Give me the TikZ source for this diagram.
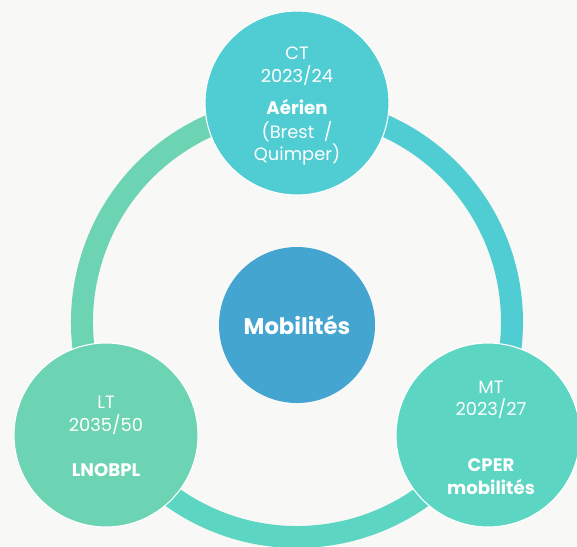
\documentclass[tikz,border=0pt]{standalone}
\usepackage{fontspec}
\setmainfont{Poppins}
\usetikzlibrary{calc}
\definecolor{bgc}{HTML}{F8F8F6}
\definecolor{topc}{HTML}{50CDD2}
\definecolor{cenc}{HTML}{43A5D0}
\definecolor{ltc}{HTML}{6CD4B2}
\definecolor{mtc}{HTML}{5DD5C3}
\begin{document}
\begin{tikzpicture}[x=0.75pt,y=-0.75pt,
  bub/.style={circle,draw=white,line width=0.8pt,minimum size=184*0.75pt,inner sep=0pt},
  txt/.style={text=white,font=\fontsize{13.4pt}{16pt}\selectfont,align=center,inner sep=0pt},
  btxt/.style={text=white,font=\fontsize{13.6pt}{16pt}\selectfont\bfseries,align=center,inner sep=0pt},
  ringseg/.style={line width=16.5pt}]
\fill[bgc] (0,0) rectangle (577,546);
\useasboundingbox (0,0) rectangle (577,546);
\clip (0,0) rectangle (577,546);
\coordinate (rc) at (297,322);
% ring segments
\draw[ringseg,color=ltc] ($(rc)+(150:215)$) arc[start angle=150,end angle=270,radius=215];
\draw[ringseg,color=topc] ($(rc)+(-90:215)$) arc[start angle=-90,end angle=30,radius=215];
\draw[ringseg,color=mtc] ($(rc)+(30:215)$) arc[start angle=30,end angle=150,radius=215];
% circles
\node[bub,fill=topc] (ct) at (297,103) {};
\node[bub,fill=ltc] (lt) at (106,435) {};
\node[bub,fill=mtc] (mt) at (488,435) {};
\node[circle,fill=cenc,minimum size=156*0.75pt,inner sep=0pt] (cen) at (297,325) {};
% texts
\node[txt] (ct1) at (297,53) {CT};
\node[txt] (ct2) at (297,76) {2023/24};
\node[btxt] (ct3) at (297,107) {Aérien};
\node[txt] (ct4) at (297,132) {(Brest~~/};
\node[txt] (ct5) at (297,154) {Quimper)};
\node[txt] (lt1) at (106,402) {LT};
\node[txt] (lt2) at (106,425) {2035/50};
\node[btxt] (lt3) at (106,470) {LNOBPL};
\node[txt] (mt1) at (491,387) {MT};
\node[txt] (mt2) at (491,409) {2023/27};
\node[btxt] (mt3) at (491,465) {CPER};
\node[btxt] (mt4) at (491,487) {mobilités};
\node[btxt,font=\fontsize{17pt}{20pt}\selectfont\bfseries] (cent) at (297,325) {Mobilités};
\end{tikzpicture}
\end{document}
